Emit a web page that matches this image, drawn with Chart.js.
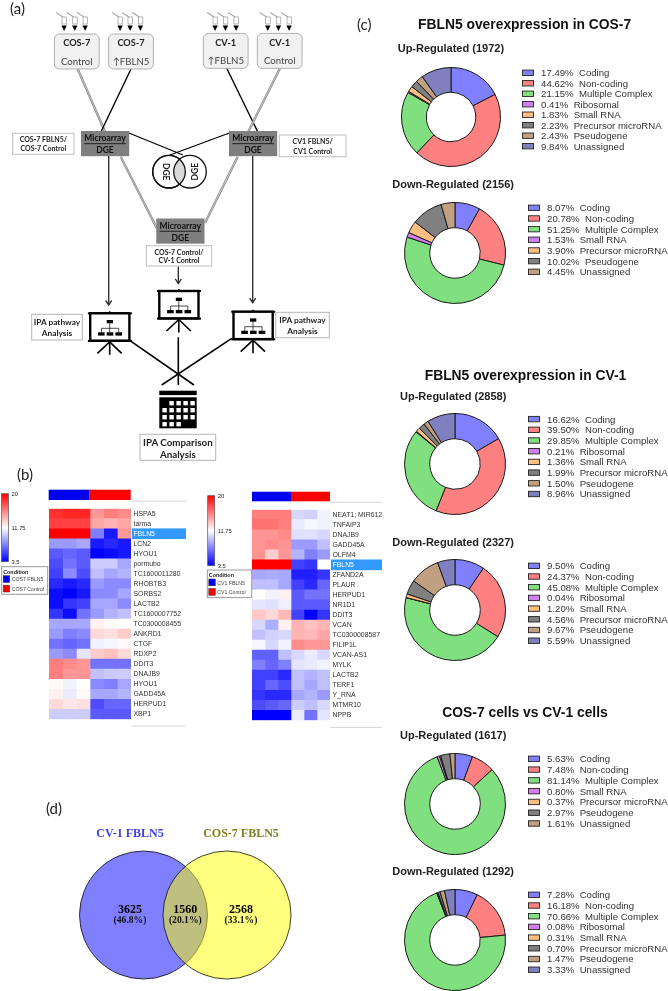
<!DOCTYPE html>
<html><head><meta charset="utf-8">
<style>
html,body{margin:0;padding:0;background:#fff;width:668px;height:991px;overflow:hidden}
body{filter:blur(.3px)}
canvas{position:absolute;display:block}
svg{position:absolute;left:0;top:0;pointer-events:none}
</style>
<script src="https://cdn.jsdelivr.net/npm/chart.js@4/dist/chart.umd.min.js"></script>
</head><body>
<script>
/* ---------- DATA ---------- */
const labelsWithRibosomal = ["Coding","Non-coding","Multiple Complex","Ribosomal","Small RNA","Precursor microRNA","Pseudogene","Unassigned"];
const labelsNoRibosomal   = ["Coding","Non-coding","Multiple Complex","Small RNA","Precursor microRNA","Pseudogene","Unassigned"];

const cos7Up   = [17.49,44.62,21.15,0.41,1.83,2.23,2.43,9.84];
const cos7Down = [8.07,20.78,51.25,1.53,3.90,10.02,4.45];
const cv1Up    = [16.62,39.50,29.85,0.21,1.36,1.99,1.50,8.96];
const cv1Down  = [9.50,24.37,45.08,0.04,1.20,4.56,9.67,5.59];
const cosCvUp  = [5.63,7.48,81.14,0.80,0.37,2.97,1.61];
const cosCvDown= [7.28,16.18,70.66,0.08,0.31,0.70,1.47,3.33];

const genesCos7 = ["HSPA5","tarma","FBLN5","LCN2","HYOU1","pormubo","TC1600011280","RHOBTB3","SORBS2","LACTB2","TC1600007752","TC0300008455","ANKRD1","CTGF","RDXP2","DDIT3","DNAJB9","HYOU1","GADD45A","HERPUD1","XBP1"];
const heatCos7 = [
[18.4,18.8,18.8,15.1,15.9,15.5],
[17.9,17.9,17.9,14.6,14.2,14.6],
[20,20,20,7.6,4.3,15.1],
[8.5,8.5,8.9,4.3,4.8,4.3],
[6.4,6.8,6.4,3.5,3.9,4.3],
[6,7.2,6.4,10.1,10.1,8.9],
[5.6,8,6,9.7,8.9,9.3],
[4.8,4.3,4.8,8.5,8,8],
[3.9,3.5,4.3,8,8,8.9],
[3.9,5.2,5.6,8.9,8.9,8],
[5.2,3.9,7.2,8.5,9.3,9.7],
[8.9,8.9,8.9,12.2,11.9,11.75],
[8.5,7.6,8,13,12.8,13.4],
[7.2,6.8,7.2,11.35,11.5,11.9],
[8.5,8,10.9,13.4,13.8,13],
[15.9,15.5,15.1,7.2,7.2,7.2],
[15.9,15.1,15.2,9.7,10,10.1],
[11.9,11.35,11.75,8,7.6,8.9],
[12.2,11.1,11.9,8.9,8.9,9.3],
[13,12.6,12.75,6,6.8,6.8],
[10.1,10.1,10.1,6.4,6.4,6.4]
];
const genesCv1 = ["NEAT1; MIR612","TNFAIP3","DNAJB9","GADD45A","OLFM4","FBLN5","ZFAND2A","PLAUR","HERPUD1","NR1D1","DDIT3","VCAN","TC0300008587","FILIP1L","VCAN-AS1","MYLK","LACTB2","TERF1","Y_RNA","MTMR10","NPPB"];
const heatCv1 = [
[15.9,15.9,15.9,10.5,10.25,11.35],
[16.3,16.3,15.9,11.1,11.5,11.35],
[15.2,15.2,15.5,10.75,10.75,10.5],
[15.2,15.5,15.2,8.5,8.5,9.7],
[15.2,13.4,15.1,9.3,7.6,8.5],
[20,20,20,5.6,5.2,11.75],
[8.9,9.05,8.9,4.5,4.5,5.2],
[9.7,9.7,8.9,5.6,4.8,6.8],
[11.75,11.35,12.2,6.4,7.2,7.2],
[10.9,10.75,11.2,6.4,6.4,6.4],
[13.55,13,14.05,5.6,3.5,5.2],
[10.5,9.1,12.2,14.2,13.8,14.2],
[9.7,10.25,10.5,14.2,14.05,14.6],
[11.5,10.5,11.35,15.5,15.1,15.1],
[6.65,6.65,9.7,10.5,11.1,10.5],
[7.6,6.8,7.6,10.9,11.1,11.35],
[5.6,5.6,4.8,9.7,9.3,9.7],
[5.6,6.8,6,9.7,8.9,9.7],
[5.2,4.8,4.8,8.9,9.3,8.5],
[6,6.4,6.8,10.1,9.7,10.5],
[3.5,3.5,3.5,11.1,7.2,10.9]
];
const vennCounts = ["3625","1560","2568"];
const vennPercents = ["(46.8%)","(20.1%)","(33.1%)"];

/* ---------- STYLE / LAYOUT ---------- */
const sliceColors = ["#8080ff","#ff8080","#80e080","#d080f0","#ffbf80","#808080","#c0a080","#8080c0"];
const SANS = "'Liberation Sans',Arial,sans-serif";
const UI = "Lato,sans-serif";
const SERIF = "'Liberation Serif',serif";
const NS = "http://www.w3.org/2000/svg";

const svg = document.createElementNS(NS,"svg");
svg.setAttribute("width",668);svg.setAttribute("height",991);

function el(name,attrs){const e=document.createElementNS(NS,name);for(const k in attrs)e.setAttribute(k,attrs[k]);svg.appendChild(e);return e;}
function line(x1,y1,x2,y2,stroke="#000",w=1.3){return el("line",{x1,y1,x2,y2,stroke,"stroke-width":w});}
function dbl(x1,y1,x2,y2){line(x1,y1,x2,y2,"#858585",2.3);line(x1,y1,x2,y2,"#eee",.6);}
function rect(x,y,w,h,fill,stroke,sw=1,rx=0){return el("rect",{x,y,width:w,height:h,fill,stroke:stroke||"none","stroke-width":sw,rx});}
function txt(x,y,s,size,o={}){
  const t=el("text",{x,y,"font-size":size,"font-family":o.family||UI,"font-weight":o.weight||"normal",fill:o.fill||"#222",
    "text-anchor":o.anchor||"middle","dominant-baseline":"central"});
  t.style.whiteSpace="pre";
  if(o.underline)t.setAttribute("text-decoration","underline");
  if(o.rotate)t.setAttribute("transform",`rotate(${o.rotate} ${x} ${y})`);
  t.textContent=s;return t;
}
function canvasAt(x,y,w,h){const c=document.createElement("canvas");c.width=w;c.height=h;c.style.left=x+"px";c.style.top=y+"px";c.style.width=w+"px";c.style.height=h+"px";document.body.appendChild(c);return c;}

/* ---------- PANEL C: DOUGHNUTS ---------- */
function donut(cx,cy,r,values,labels,title,tx,ty,lx,ly,pitch){
  const s=2*r+2;
  new Chart(canvasAt(cx-s/2,cy-s/2,s,s),{type:"doughnut",
    data:{labels,datasets:[{data:values,backgroundColor:sliceColors.slice(0,values.length),borderColor:"#1a1a1a",borderWidth:1}]},
    options:{responsive:false,animation:false,devicePixelRatio:1,cutout:"50%",plugins:{legend:{display:false},tooltip:{enabled:false}}}});
  txt(tx,ty,title,11,{family:SANS,weight:"bold",anchor:"start",fill:"#222"});
  labels.forEach((l,i)=>{
    const y=ly+i*pitch;
    rect(lx,y-2.6,11,5.4,sliceColors[i],"#222",.9);
    txt(lx+18.6,y,values[i].toFixed(2)+"%  "+l,9.6,{family:SANS,anchor:"start",fill:"#333"});
  });
}
donut(451,116.7,49,cos7Up,labelsWithRibosomal,"Up-Regulated (1972)",397.7,48.3,522.5,72.7,10.48);
donut(455,252.5,50,cos7Down,labelsNoRibosomal,"Down-Regulated (2156)",392.3,184.3,528.5,207.7,10.67);
donut(455,463.7,50,cv1Up,labelsWithRibosomal,"Up-Regulated (2858)",400,395.7,528.5,419,10.7);
donut(455,610,50,cv1Down,labelsWithRibosomal,"Down-Regulated (2327)",392.3,542.3,528.5,565.7,10.7);
donut(455,803.7,50,cosCvUp,labelsNoRibosomal,"Up-Regulated (1617)",400,735.3,528.5,758.7,10.78);
donut(455,939.7,50,cosCvDown,labelsWithRibosomal,"Down-Regulated (1292)",392.3,871.3,528.5,894.7,10.7);
txt(418,24,"FBLN5 overexpression in COS-7",13.85,{family:SANS,weight:"bold",anchor:"start",fill:"#111"});
txt(424.7,375,"FBLN5 overexpression in CV-1",13.85,{family:SANS,weight:"bold",anchor:"start",fill:"#111"});
txt(442.3,712.3,"COS-7 cells vs CV-1 cells",13.85,{family:SANS,weight:"bold",anchor:"start",fill:"#111"});

/* ---------- PANEL B: HEATMAPS ---------- */
function heatColor(v){
  const t=Math.max(-1,Math.min(1,(v-11.75)/8.25));
  const a=Math.round(255*(1-Math.abs(t)));
  return t>=0?`rgb(255,${a},${a})`:`rgb(${a},${a},255)`;
}
function heatmap(x,y,cellW,h,labelW,genes,matrix){
  const w=Math.round(cellW+labelW);
  const highlight={id:"hl",beforeDraw(ch){
    const s=ch.scales.y,i=genes.indexOf("FBLN5"),p=s.getPixelForValue(i),rowH=h/genes.length,c=ch.ctx;
    c.save();c.fillStyle="#3399ff";c.fillRect(ch.chartArea.right+1,p-rowH/2,ch.width,rowH);c.restore();
  }};
  new Chart(canvasAt(x,y,w,h),{type:"bar",
    data:{labels:genes,datasets:[0,1,2,3,4,5].map(k=>({data:genes.map(()=>1),backgroundColor:matrix.map(r=>heatColor(r[k])),borderWidth:0,barPercentage:1,categoryPercentage:1}))},
    plugins:[highlight],
    options:{indexAxis:"y",responsive:false,animation:false,devicePixelRatio:1,layout:{padding:0},
      plugins:{legend:{display:false},tooltip:{enabled:false}},
      scales:{
        x:{stacked:true,display:false,min:0,max:6},
        y:{stacked:true,position:"right",border:{display:false},grid:{display:false,drawTicks:false},
           afterFit(s){s.width=w-cellW;},
           ticks:{autoSkip:false,padding:2.5,font:{family:"Liberation Sans",size:6.9},color:c=>genes[c.index]==="FBLN5"?"#fff":"#333"}}
      }}});
}
heatmap(48.7,501.7,82,224,55,genesCos7,heatCos7);
heatmap(252,502.7,78,224.7,52,genesCv1,heatCv1);

/* heatmap decoration */
const defs=el("defs",{});
const grad=document.createElementNS(NS,"linearGradient");grad.id="cb";grad.setAttribute("x1",0);grad.setAttribute("x2",0);grad.setAttribute("y1",0);grad.setAttribute("y2",1);
[["0","#ff0000"],["0.5","#ffffff"],["1","#0000ff"]].forEach(([o,c])=>{const s=document.createElementNS(NS,"stop");s.setAttribute("offset",o);s.setAttribute("stop-color",c);grad.appendChild(s);});
defs.appendChild(grad);
function cond(x,y,w,barY,barH,hx,hw,cbx,cbTop,cbBot,a,b,lineY1,lineY2,lx,lr){
  rect(hx,barY,hw/2,barH,"#0000f0");rect(hx+hw/2,barY,hw/2,barH,"#ff0000");
  rect(cbx,cbTop,7,cbBot-cbTop,"url(#cb)","#555",.7);
  txt(cbx+10,cbTop,"20",5.8,{anchor:"start",family:SANS});
  txt(cbx+10,(cbTop+cbBot)/2,"11.75",5.8,{anchor:"start",family:SANS});
  txt(cbx+10,cbBot,"3.5",5.8,{anchor:"start",family:SANS});
  rect(x,y,w,27.6,"#fff","#999",1);
  txt(x+1.5,y+5,"Condition",5.4,{anchor:"start",weight:"bold",family:SANS});
  rect(x+1.5,y+9,6.5,6.8,"#0000f0","#333",.5);txt(x+10,y+12.5,a,5.2,{anchor:"start",fill:"#444",family:SANS});
  rect(x+1.5,y+18.5,6.5,6.8,"#ff0000","#333",.5);txt(x+10,y+22,b,5.2,{anchor:"start",fill:"#444",family:SANS});
  line(lx,lineY1,lr,lineY1,"#ccc",.8);line(lx,lineY2,lr,lineY2,"#ccc",.8);
}
cond(1.7,566.7,46,489.7,10.3,48.7,82,1.5,493.7,561.7,"COS7 FBLN5","COS7 Control",501.2,726,131,186);
cond(207.3,570,44.4,491.7,9.6,252,78,207.7,495.7,565.7,"CV1 FBLN5","CV1 Control",502.2,727.4,330,382);

/* ---------- PANEL D: VENN ---------- */
const vennBox={x:70,y:845,w:230,h:140};
const vennGeom=[{x:143.5-70,y:915-845,r:64},{x:227-70,y:915-845,r:64}];
new Chart(canvasAt(vennBox.x,vennBox.y,vennBox.w,vennBox.h),{type:"bubble",
  data:{datasets:[
    {data:[vennGeom[1]],backgroundColor:"rgba(255,255,0,.5)",borderColor:"rgba(0,0,0,.75)",borderWidth:1,clip:false},
    {data:[vennGeom[0]],backgroundColor:"rgba(0,0,255,.5)",borderColor:"rgba(0,0,0,.75)",borderWidth:1,clip:false}]},
  options:{responsive:false,animation:false,devicePixelRatio:1,layout:{padding:0,autoPadding:false},
    plugins:{legend:{display:false},tooltip:{enabled:false}},
    scales:{x:{display:false,min:0,max:vennBox.w},y:{display:false,min:0,max:vennBox.h,reverse:true}}}});
txt(130,833,"CV-1 FBLN5",12,{family:SERIF,weight:"bold",fill:"#4040e0"});
txt(241,833,"COS-7 FBLN5",12,{family:SERIF,weight:"bold",fill:"#808020"});
[130,185.3,241].forEach((x,i)=>{
  txt(x,909,vennCounts[i],12,{family:SERIF,weight:"bold",fill:"#000"});
  txt(x,919.7,vennPercents[i],9.6,{family:SERIF,weight:"bold",fill:"#111"});
});

/* ---------- PANEL A: WORKFLOW ---------- */
function pipettes(xs){xs.forEach(x=>{
  line(x-8,12.5,x-1,17,"#aaa",1.2);
  rect(x-2,17,4.5,7,"#fff","#999",.7);
  el("polygon",{points:`${x-2.6},25.5 ${x+2.8},25.5 ${x+.1},31`,fill:"#000"});
});}
pipettes([64,74.7,85]);pipettes([120,130,140.3]);pipettes([215,225.3,236]);pipettes([267.7,278.3,289]);
function cell(x,y,title,sub){
  rect(x,y,44.8,35,"#f1f1f1","#a8a8a8",.9,5);
  txt(x+22.4,y+8.6,title,9.2,{weight:"bold",fill:"#222"});
  txt(x+22.4,y+27.5,sub,9.6,{fill:"#444"});
}
dbl(77.7,69,105,131.7);line(131,69,101,131.7,"#000",1.4);
line(226.7,68.3,257.7,131.7,"#000",1.4);dbl(280,68.3,248.3,131.7);
dbl(120.7,156.7,156.7,228);dbl(237.7,156.7,205,223);
cell(54.4,34,"COS-7","Control");cell(108.6,34,"COS-7","↑FBLN5");cell(203.3,33.4,"CV-1","↑FBLN5");cell(257.3,33.4,"CV-1","Control");
line(128.3,132.7,183,155,"#000",1.2);line(230,132.7,170,155,"#000",1.2);
function dge(x,y){rect(x,y,48.2,25.2,"#7f7f7f");txt(x+24,y+7.3,"Microarray",8.5,{weight:"bold",underline:true,fill:"#111"});txt(x+24,y+19,"DGE",8.5,{weight:"bold",fill:"#111"});}
dge(81,131);dge(229,131);dge(156.3,218.5);
function label(x,y,w,h,a,b,size,stroke="#bdbdbd"){rect(x,y,w,h,"#fff",stroke,1);txt(x+w/2,y+h*.29,a,size,{weight:"bold"});txt(x+w/2,y+h*.72,b,size,{weight:"bold"});}
label(12.7,133.3,61.3,21,"COS-7 FBLN5/","COS-7 Control",7);
label(279.3,135,66.7,21.7,"CV1 FBLN5/","CV1 Control",7);
label(146.3,245.7,65.4,20.3,"COS-7 Control/","CV-1 Control",7);
/* small venn */
el("circle",{cx:169,cy:171.7,r:16.3,fill:"#fff",stroke:"#111","stroke-width":1.3});
el("circle",{cx:190,cy:171.7,r:16.3,fill:"#fff",stroke:"none"});
el("path",{d:"M179.5,159.2 A16.3,16.3 0 0 1 179.5,184.2 A16.3,16.3 0 0 1 179.5,159.2 Z",fill:"#d9d9d9"});
el("circle",{cx:169,cy:171.7,r:16.3,fill:"none",stroke:"#111","stroke-width":1.3});
el("circle",{cx:190,cy:171.7,r:16.3,fill:"none",stroke:"#111","stroke-width":1.3});
txt(165.5,171.7,"DGE",8.5,{weight:"bold",rotate:90});
txt(195.5,171.7,"DGE",8.5,{weight:"bold",rotate:-90});
function arrow(x,y1,y2,w=1.4,col="#333"){
  line(x,y1,x,y2,col,w);
  el("polyline",{points:`${x-3},${y2-4.5} ${x},${y2} ${x+3},${y2-4.5}`,fill:"none",stroke:col,"stroke-width":w});
}
arrow(108.7,156,305);arrow(252.7,156,302.7);arrow(178.3,266.7,283.5,1.3,"#222");
function screen(cx,top,legY){
  line(cx,top-2,cx,top,"#000",1.6);
  rect(cx-21.8,top-.9,44,1.9,"#000");
  rect(cx-19.5,top,39.2,27.4,"#fff","#000",2.4);
  rect(cx-21.8,top+26.6,44,2,"#000");
  rect(cx-3,top+6.7,6.3,3.3,"#000");
  line(cx,top+10,cx,top+19,"#000",.7);
  line(cx-8.2,top+15,cx+9,top+15,"#000",.7);
  line(cx-8.2,top+15,cx-8.2,top+19,"#000",.7);line(cx+9,top+15,cx+9,top+19,"#000",.7);
  [-11.7,-3,5.7].forEach(d=>rect(cx+d,top+19,6.6,3.3,"#000"));
  line(cx,top+28,cx,legY+1.5,"#000",1.6);
  line(cx,top+28.5,cx-12.3,legY,"#000",1.6);
  line(cx,top+28.5,cx+12,legY,"#000",1.6);
}
line(130,340.7,194,385,"#000",1.6);line(231.7,338.3,161.7,385,"#000",1.6);line(178.3,337.3,178.3,385,"#000",1.6);
screen(109.7,313.3,353.3);screen(178.8,291,331);screen(253,311.7,351.7);
/* calendar */
rect(159.3,390.7,37.4,4.4,"#000");rect(159.3,397.3,37.4,31,"#000");
const calCols=[162.4,169.4,176.4,183.4,190.4],calRows=[401,408,415,422];
[[1,2,3,4],[0,1,2,3,4],[0,1,2,3,4],[0,1,2]].forEach((cs,r)=>cs.forEach(c=>rect(calCols[c],calRows[r],4.4,4.4,"#fff")));
function ipa(x,y,w,h,a,b,size,ya,yb){rect(x,y,w,h,"#fff","#b5b5b5",1);txt(x+w/2,ya,a,size,{weight:"bold",fill:"#222"});txt(x+w/2,yb,b,size,{weight:"bold",fill:"#222"});}
ipa(31.7,314.3,50.6,25.7,"IPA pathway","Analysis",8.3,322.3,333);
ipa(275.7,312.3,53.6,25.4,"IPA pathway","Analysis",8.3,320,330.7);
ipa(140,434.3,75.7,26,"IPA Comparison","Analysis",9.8,441.7,454.3);

/* panel letters */
[[10,8,"(a)"],[17,474,"(b)"],[357,24,"(c)"],[46,807.7,"(d)"]].forEach(([x,y,s])=>txt(x,y,s,15,{anchor:"start",fill:"#222"}));

document.body.appendChild(svg);
</script>
</body></html>
